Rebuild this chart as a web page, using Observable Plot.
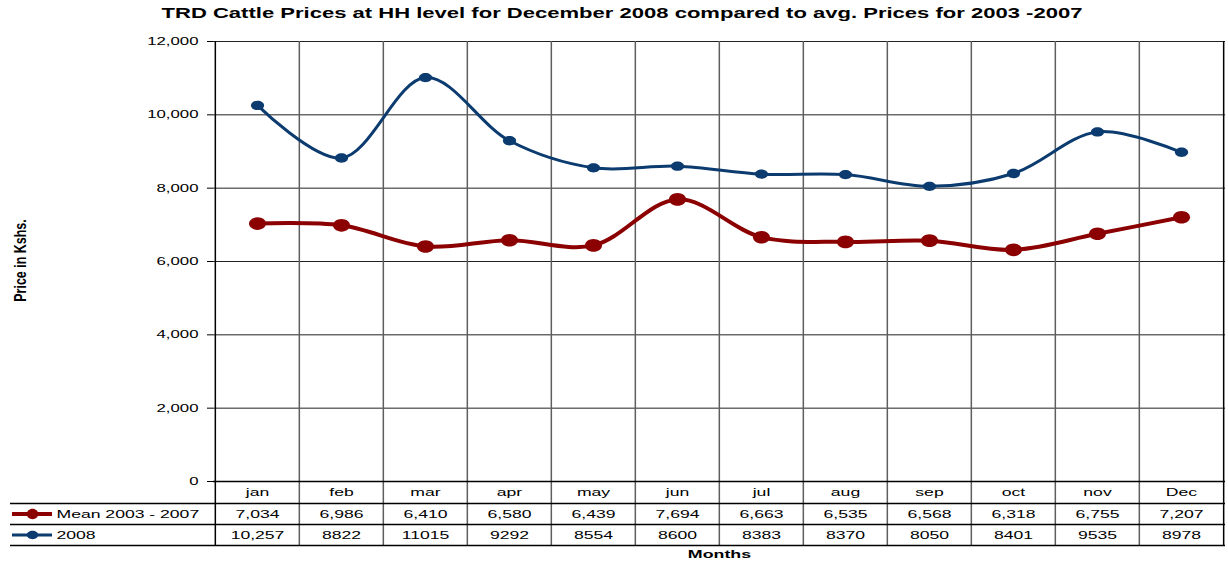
<!DOCTYPE html>
<html>
<head>
<meta charset="utf-8">
<script src="https://cdn.jsdelivr.net/npm/d3@7"></script>
<script src="https://cdn.jsdelivr.net/npm/@observablehq/plot@0.6"></script>
<style>
  html, body { margin: 0; padding: 0; background: #fff; }
</style>
</head>
<body>
<div id="chart"></div>
<script>
const months = ["jan","feb","mar","apr","may","jun","jul","aug","sep","oct","nov","Dec"];
const meanValues = [7034, 6986, 6410, 6580, 6439, 7694, 6663, 6535, 6568, 6318, 6755, 7207];
const values2008 = [10257, 8822, 11015, 9292, 8554, 8600, 8383, 8370, 8050, 8401, 9535, 8978];
const meanLabels = ["7,034","6,986","6,410","6,580","6,439","7,694","6,663","6,535","6,568","6,318","6,755","7,207"];
const labels2008 = ["10,257","8822","11015","9292","8554","8600","8383","8370","8050","8401","9535","8978"];
const yTicks = [0, 2000, 4000, 6000, 8000, 10000, 12000];
const seriesNames = ["Mean 2003 - 2007", "2008"];
const colors = ["#8B0000", "#0B3B6F"];
const titleText = "TRD Cattle Prices at HH level for December 2008 compared to avg. Prices for 2003 -2007";
const xTitle = "Months";
const yTitle = "Price in Kshs.";

const W = 1228, H = 563, mL = 213, mR = 3, mT = 41, mB = 82;
const plotH = H - mT - mB;            // 440
const u = 12000 / plotH;              // data units per pixel
const bw = (W - mL - mR) / months.length;
const row = px => -px * u;            // px below the zero line -> y value
const FONT = "'Liberation Sans', Arial, sans-serif";

// horizontally stretched ellipse symbol (the reference is stretched sideways)
const ellipse = (sx) => ({
  draw(ctx, size) {
    const ry = Math.sqrt(size / Math.PI), rx = ry * sx, k = 0.5523;
    ctx.moveTo(rx, 0);
    ctx.bezierCurveTo(rx, k * ry, k * rx, ry, 0, ry);
    ctx.bezierCurveTo(-k * rx, ry, -rx, k * ry, -rx, 0);
    ctx.bezierCurveTo(-rx, -k * ry, -k * rx, -ry, 0, -ry);
    ctx.bezierCurveTo(k * rx, -ry, rx, -k * ry, rx, 0);
    ctx.closePath();
  }
});

const meanData = months.map((m, i) => ({month: m, value: meanValues[i], label: meanLabels[i]}));
const data2008 = months.map((m, i) => ({month: m, value: values2008[i], label: labels2008[i]}));

const plot = Plot.plot({
  width: W, height: H,
  marginLeft: mL, marginRight: mR, marginTop: mT, marginBottom: mB,
  style: {fontFamily: FONT, fontSize: "11px", color: "#000", background: "#fff"},
  x: {type: "band", domain: months, padding: 0, axis: null},
  y: {domain: [0, 12000], axis: null},
  marks: [
    Plot.ruleY(yTicks.filter(d => d > 0), {stroke: "#222", strokeWidth: 1}),
    Plot.ruleX(months.slice(1), {x: d => d, dx: -bw / 2, y1: row(64), y2: 12000, stroke: "#5e5e5e", strokeWidth: 1.5}),
    Plot.ruleX([months[0]], {x: d => d, dx: -bw / 2, y1: row(64), y2: 12000, stroke: "#000", strokeWidth: 1.5}),
    Plot.ruleX([months[11]], {x: d => d, dx: bw / 2, y1: row(64), y2: 12000, stroke: "#000", strokeWidth: 1.5}),
    Plot.ruleY([0], {stroke: "#000", strokeWidth: 1.5}),
    Plot.ruleY([row(22), row(43), row(64)], {stroke: "#000", strokeWidth: 1.5, insetLeft: -203}),
    Plot.ruleY([0], {y1: row(22), y2: row(64), stroke: "#000", strokeWidth: 1.5, insetLeft: -203, insetRight: W - mL - mR + 203 - 0.01}),
    Plot.axisY({ticks: yTicks, tickFormat: d3.format(","), tickSize: 6, tickPadding: 9, fontSize: 10.5, label: null, stroke: "#000", fill: "#000"}),
    Plot.line(meanData, {x: "month", y: "value", stroke: colors[0], strokeWidth: 4, curve: "catmull-rom"}),
    Plot.dot(meanData, {x: "month", y: "value", fill: colors[0], r: 6.3, symbol: ellipse(1.35), stroke: "none"}),
    Plot.line(data2008, {x: "month", y: "value", stroke: colors[1], strokeWidth: 3, curve: "catmull-rom"}),
    Plot.dot(data2008, {x: "month", y: "value", fill: colors[1], r: 4.7, symbol: ellipse(1.4), stroke: "none"}),
    Plot.text(months, {x: d => d, y: row(11), text: d => d, fontSize: 11, fill: "#000"}),
    Plot.text(meanData, {x: "month", y: row(32.5), text: "label", fontSize: 11, fill: "#000"}),
    Plot.text(data2008, {x: "month", y: row(53.5), text: "label", fontSize: 11, fill: "#000"}),
    Plot.ruleY([row(32.5)], {stroke: colors[0], strokeWidth: 4, insetLeft: -201, insetRight: W - mR - 52}),
    Plot.dot([0], {y: row(32.5), frameAnchor: "left", dx: -181, r: 5.2, symbol: ellipse(1.1), fill: colors[0]}),
    Plot.text([seriesNames[0]], {y: row(32.5), frameAnchor: "left", dx: -157, textAnchor: "start", fontSize: 11, fill: "#000"}),
    Plot.ruleY([row(53.5)], {stroke: colors[1], strokeWidth: 3, insetLeft: -201, insetRight: W - mR - 52}),
    Plot.dot([0], {y: row(53.5), frameAnchor: "left", dx: -181, r: 4.2, symbol: ellipse(1.35), fill: colors[1]}),
    Plot.text([seriesNames[1]], {y: row(53.5), frameAnchor: "left", dx: -157, textAnchor: "start", fontSize: 11, fill: "#000"}),
    Plot.text([titleText], {frameAnchor: "top", lineAnchor: "middle", dx: -97.5, dy: -28.5, fontSize: 15, fontWeight: "bold", fill: "#000"}),
    Plot.text([xTitle], {frameAnchor: "bottom", lineAnchor: "middle", dx: 0, dy: 72.5, fontSize: 11, fontWeight: "bold", fill: "#000"}),
    Plot.text([yTitle], {frameAnchor: "left", dx: -193, dy: -1, rotate: -90, textAnchor: "middle", fontSize: 12.5, fontWeight: "bold", fill: "#000", letterSpacing: "-0.3px"})
  ]
});

// The reference picture is stretched sideways: widen glyphs around their anchor.
function stretch(el, sx) {
  const tr = el.getAttribute("transform");
  if (tr && /translate/.test(tr)) {
    const m = tr.match(/^(\s*translate\([^)]*\))(.*)$/);
    if (m) { el.setAttribute("transform", `${m[1]} scale(${sx},1)${m[2]}`); return; }
  }
  const x = +(el.getAttribute("x") || 0), y = +(el.getAttribute("y") || 0);
  el.setAttribute("transform", `${tr || ""} translate(${x},${y}) scale(${sx},1) translate(${-x},${-y})`);
}
d3.select(plot).selectAll("text").each(function () {
  const t = this.textContent;
  if (t === titleText) stretch(this, 1.47);
  else if (t === yTitle) stretch(this, 1.35);
  else if (t === xTitle) stretch(this, 1.62);
  else stretch(this, 1.6);
});

document.getElementById("chart").appendChild(plot);
</script>
</body>
</html>
